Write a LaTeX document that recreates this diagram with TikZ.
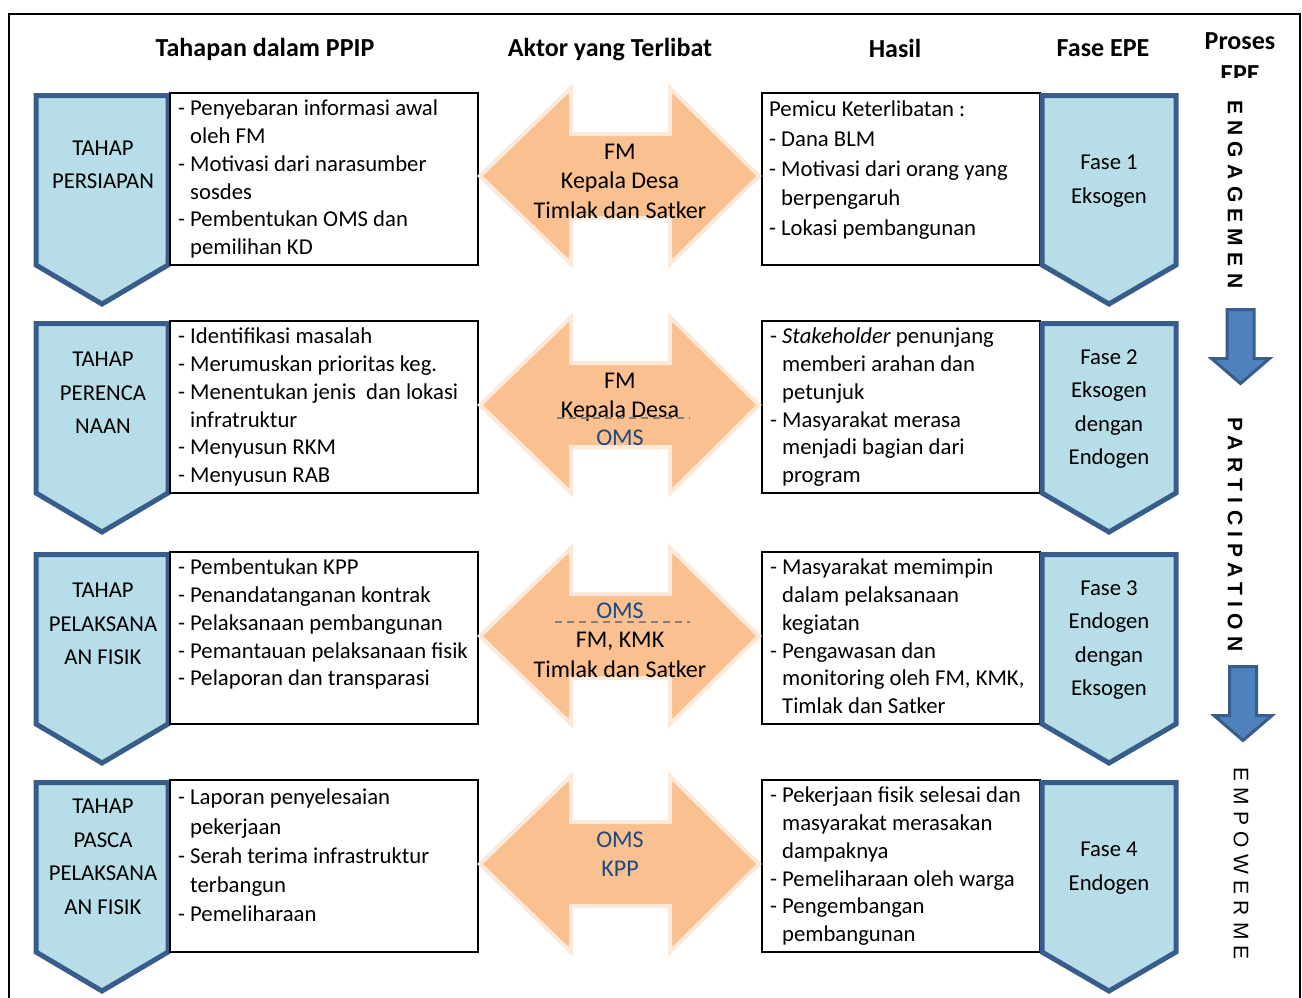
\documentclass[tikz,border=0pt]{standalone}
\usepackage{fontspec}
\setmainfont{Carlito}
\newfontfamily\wordfont[LetterSpace=30]{Liberation Sans}
\usepackage{tikz}

\definecolor{pentfill}{HTML}{B7DDE8}
\definecolor{pentline}{HTML}{385D8A}
\definecolor{arrfill}{HTML}{FAC090}
\definecolor{arrline}{HTML}{FDE9D9}
\definecolor{omsblue}{HTML}{1F497D}
\definecolor{procfill}{HTML}{4F81BD}
\definecolor{procline}{HTML}{385D8A}

\newcommand{\dsh}{\makebox[12pt][l]{-}}
\newcommand{\ind}{\hspace*{12pt}}

\begin{document}
\begin{tikzpicture}[x=1pt,y=-1pt,
	pent/.style={draw=pentline, fill=pentfill, line width=5pt, line join=miter},
	dbl/.style={draw=arrline, fill=arrfill, line width=4pt, line join=miter},
	box/.style={draw=black, line width=1.6pt},
	hdr/.style={inner sep=0pt, font=\bfseries\fontsize{26}{33}\selectfont},
	lbl/.style={align=center, inner sep=0pt, font=\fontsize{22.7}{33.5}\selectfont},
	items/.style={align=left, anchor=north west, inner sep=0pt, font=\fontsize{22.7}{27.7}\selectfont},
	aktor/.style={align=center, inner sep=0pt, font=\fontsize{24}{29.5}\selectfont},
	sepline/.style={draw=gray, line width=1.5pt, dash pattern=on 7pt off 5pt},
	proc/.style={draw=procline, fill=procfill, line width=3pt, line join=miter},
	vert/.style={rotate=-90, anchor=west, inner sep=0pt, font=\wordfont\fontsize{21}{24}\selectfont}]
	\useasboundingbox (0,0) rectangle (1302,997);
	\draw[line width=2pt] (9,14) rectangle (1300,1020);

	\node[hdr] (hTahap) at (265,49) {Tahapan dalam PPIP};
	\node[hdr] (hAktor) at (610,50) {Aktor yang Terlibat};
	\node[hdr] (hHasil) at (895,48) {Hasil};
	\node[hdr] (hFase) at (1103,48) {Fase EPE};
	\begin{scope}
		\clip (1180,20) rectangle (1298,77);
		\node[hdr, align=center] (hProses) at (1240,58) {Proses\\EPE};
	\end{scope}

	\foreach \t in {93,321,552,780} {
		\draw[pent] (36,\t+2.5) -- (168,\t+2.5) -- (168,\t+172) -- (102,\t+211) -- (36,\t+172) -- cycle;
		\draw[box, fill=white] (170,\t) rectangle (478,\t+172);
		\draw[box, fill=white] (762,\t) rectangle (1040,\t+172);
		\draw[pent] (1042,\t+2.5) -- (1176,\t+2.5) -- (1176,\t+172) -- (1109,\t+211) -- (1042,\t+172) -- cycle;
	}
	\foreach \c in {176,405,636,864}
		\draw[dbl] (480,\c) -- (571,\c-88) -- (571,\c-42) -- (670,\c-42) -- (670,\c-88) -- (759,\c)
			-- (670,\c+88) -- (670,\c+42) -- (571,\c+42) -- (571,\c+88) -- cycle;
	\foreach \cx/\y in {1240.5/309.5, 1243/666.5}
		\draw[proc] (\cx-13.5,\y) -- (\cx+13.5,\y) -- (\cx+13.5,\y+49) -- (\cx+29,\y+49) -- (\cx,\y+74)
			-- (\cx-29,\y+49) -- (\cx-13.5,\y+49) -- cycle;

	\node[lbl] (tahap1) at (103,165) {TAHAP\\PERSIAPAN};
	\node[lbl] (tahap2) at (103,393) {TAHAP\\PERENCA\\NAAN};
	\node[lbl] (tahap3) at (103,624) {TAHAP\\PELAKSANA\\AN FISIK};
	\node[lbl] (tahap4) at (103,857) {TAHAP\\PASCA\\PELAKSANA\\AN FISIK};

	\node[items] (isi1) at (178,100) {\dsh Penyebaran informasi awal\\\ind oleh FM\\\dsh Motivasi dari narasumber\\\ind sosdes\\\dsh Pembentukan OMS dan\\\ind pemilihan KD};
	\node[items] (isi2) at (178,328) {\dsh Identifikasi masalah\\\dsh Merumuskan prioritas keg.\\\dsh Menentukan jenis~ dan lokasi\\\ind infratruktur\\\dsh Menyusun RKM\\\dsh Menyusun RAB};
	\node[items] (isi3) at (178,559) {\dsh Pembentukan KPP\\\dsh Penandatanganan kontrak\\\dsh Pelaksanaan pembangunan\\\dsh Pemantauan pelaksanaan fisik\\\dsh Pelaporan dan transparasi};
	\node[items, font=\fontsize{22.7}{29.2}\selectfont] (isi4) at (178,789) {\dsh Laporan penyelesaian\\\ind pekerjaan\\\dsh Serah terima infrastruktur\\\ind terbangun\\\dsh Pemeliharaan};

	\node[aktor] (aktor1) at (620,181) {FM\\Kepala Desa\\Timlak dan Satker};
	\node[aktor] (aktor2) at (620,397) {FM\\Kepala Desa};
	\node[aktor, text=omsblue] (oms2) at (620,438) {OMS};
	\draw[sepline] (557,418) -- (690,418);
	\node[aktor, text=omsblue] (oms3) at (620,611) {OMS};
	\draw[sepline] (555,622) -- (690,622);
	\node[aktor] (aktor3) at (620,655) {FM, KMK\\Timlak dan Satker};
	\node[aktor, text=omsblue] (aktor4) at (620,854) {OMS\\KPP};

	\node[items, font=\fontsize{22.7}{29.6}\selectfont] (hasil1) at (769,101) {Pemicu Keterlibatan :\\\dsh Dana BLM\\\dsh Motivasi dari orang yang\\\ind berpengaruh\\\dsh Lokasi pembangunan};
	\node[items] (hasil2) at (770,328) {\dsh \textit{Stakeholder} penunjang\\\ind memberi arahan dan\\\ind petunjuk\\\dsh Masyarakat merasa\\\ind menjadi bagian dari\\\ind program};
	\node[items] (hasil3) at (770,559) {\dsh Masyarakat memimpin\\\ind dalam pelaksanaan\\\ind kegiatan\\\dsh Pengawasan dan\\\ind monitoring oleh FM, KMK,\\\ind Timlak dan Satker};
	\node[items] (hasil4) at (770,787) {\dsh Pekerjaan fisik selesai dan\\\ind masyarakat merasakan\\\ind dampaknya\\\dsh Pemeliharaan oleh warga\\\dsh Pengembangan\\\ind pembangunan};

	\node[lbl] (fase1) at (1109,181) {Fase 1\\Eksogen};
	\node[lbl] (fase2) at (1109,409) {Fase 2\\Eksogen\\dengan\\Endogen};
	\node[lbl] (fase3) at (1109,640) {Fase 3\\Endogen\\dengan\\Eksogen};
	\node[lbl] (fase4) at (1109,868) {Fase 4\\Endogen};

	\node[vert] (engage) at (1235,100) {\bfseries ENGAGEMEN};
	\node[vert] (partic) at (1235,417) {\bfseries PARTICIPATION};
	\node[vert] (empower) at (1241,767) {EMPOWERME};
\end{tikzpicture}
\end{document}
